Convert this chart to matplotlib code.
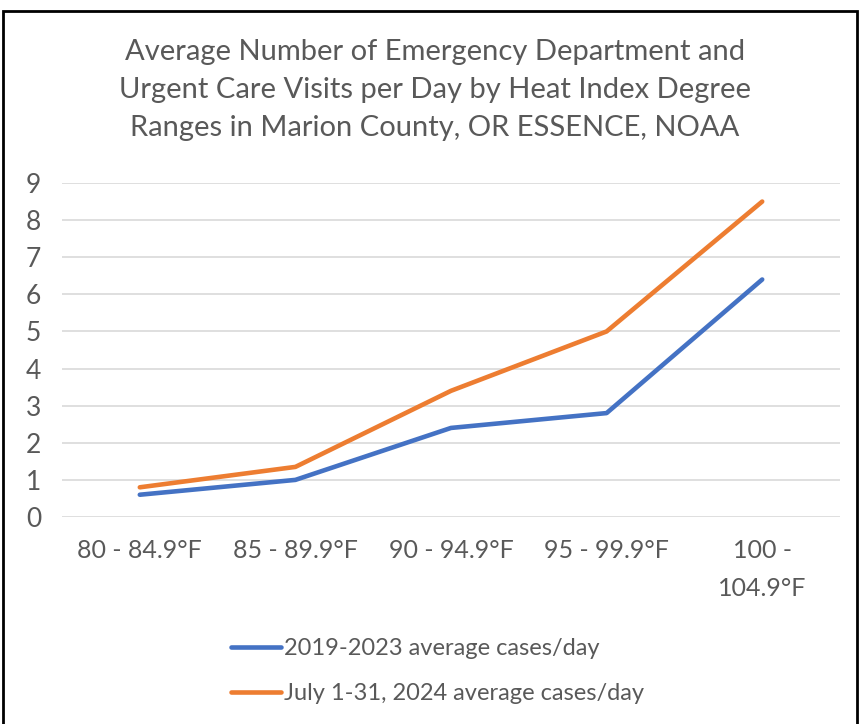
import matplotlib
matplotlib.use('Agg')
import matplotlib.pyplot as plt
from matplotlib.patches import Rectangle

# Heat index ranges and average visits per day
categories = ['80 - 84.9°F', '85 - 89.9°F', '90 - 94.9°F', '95 - 99.9°F', '100 -\n104.9°F']
avg_2019_2023 = [0.6, 1.0, 2.4, 2.8, 6.4]
avg_july_2024 = [0.8, 1.35, 3.4, 5.0, 8.5]
series_labels = ['2019-2023 average cases/day', 'July 1-31, 2024 average cases/day']
title = ('Average Number of Emergency Department and\n'
         'Urgent Care Visits per Day by Heat Index Degree\n'
         'Ranges in Marion County, OR ESSENCE, NOAA')

plt.rcParams['font.family'] = ['Lato', 'DejaVu Sans']
text_color = '#595959'

fig = plt.figure(figsize=(8.59, 7.24), dpi=100)
ax = fig.add_axes([62 / 859, 1 - 517 / 724, 778 / 859, 334 / 724])

x = range(len(categories))
ax.plot(x, avg_2019_2023, color='#4472C4', lw=3.3, solid_capstyle='round',
        solid_joinstyle='round', label=series_labels[0])
ax.plot(x, avg_july_2024, color='#ED7D31', lw=3.3, solid_capstyle='round',
        solid_joinstyle='round', label=series_labels[1])

ax.set_xlim(-0.5, len(categories) - 0.5)
ax.set_ylim(0, 9)
ax.set_yticks(range(0, 10))
ax.set_xticks(list(x))
ax.set_xticklabels(categories, fontsize=18, color=text_color, linespacing=1.8)
ax.tick_params(axis='y', labelsize=19, labelcolor=text_color, length=0, pad=15)
ax.tick_params(axis='x', length=0, pad=16)
ax.grid(axis='y', color='#D9D9D9', lw=1.2)
ax.set_axisbelow(True)
for s in ax.spines.values():
    s.set_visible(False)

fig.text(0.506, 1 - 90 / 724, title, ha='center', va='center', fontsize=21,
         color=text_color, linespacing=1.58)

leg = fig.legend(loc='upper left', bbox_to_anchor=(210 / 859, 1 - 617 / 724),
                 frameon=False, fontsize=17, labelcolor=text_color,
                 handlelength=2.1, handletextpad=0.15, labelspacing=1.0)

# outer frame
fig.patches.append(Rectangle((3 / 859, -0.05), 854 / 859, 1.05 - 11 / 724,
                             transform=fig.transFigure, fill=False,
                             edgecolor='black', lw=2))

fig.savefig('out.png', dpi=100)
